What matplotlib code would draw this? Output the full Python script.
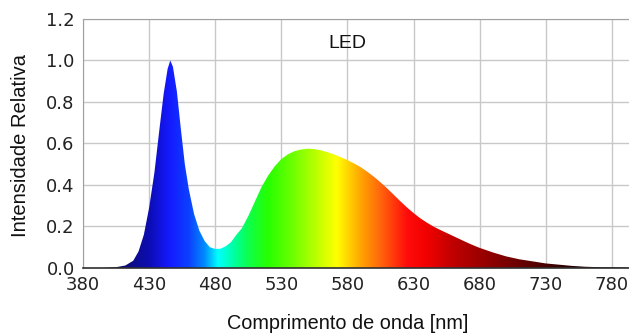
import numpy as np
import matplotlib
matplotlib.use("Agg")
from matplotlib import pyplot as plt
from matplotlib.patches import Polygon

# relative spectral intensity of a white LED
wavelength = [380, 395, 405, 412, 418, 422, 426, 430, 434, 438, 441, 444, 446,
              448, 451, 454, 457, 460, 464, 468, 472, 476, 480, 484, 488, 492,
              496, 500, 505, 510, 515, 520, 525, 530, 535, 540, 545, 550, 555,
              560, 565, 570, 575, 580, 585, 590, 595, 600, 605, 610, 615, 620,
              625, 630, 635, 640, 645, 650, 655, 660, 665, 670, 675, 680, 690,
              700, 710, 720, 730, 740, 750, 760, 770, 780, 790, 800]
intensity = [0.0, 0.0, 0.004, 0.012, 0.035, 0.08, 0.16, 0.29, 0.46, 0.68, 0.84,
             0.96, 1.0, 0.97, 0.85, 0.67, 0.50, 0.38, 0.26, 0.18, 0.13, 0.10,
             0.092, 0.093, 0.105, 0.125, 0.16, 0.19, 0.25, 0.32, 0.39, 0.445,
             0.49, 0.525, 0.548, 0.563, 0.571, 0.575, 0.573, 0.567, 0.558,
             0.547, 0.534, 0.52, 0.504, 0.486, 0.464, 0.44, 0.413, 0.384,
             0.353, 0.322, 0.292, 0.265, 0.24, 0.219, 0.2, 0.184, 0.169, 0.154,
             0.139, 0.124, 0.11, 0.097, 0.075, 0.056, 0.042, 0.032, 0.022,
             0.016, 0.010, 0.006, 0.004, 0.003, 0.002, 0.001]

xticks = [380, 430, 480, 530, 580, 630, 680, 730, 780]
yticks = [0.0, 0.2, 0.4, 0.6, 0.8, 1.0, 1.2]

# wavelength -> colour anchors for the fill gradient
col_nm = [380, 410, 430, 445, 460, 472, 482, 495, 505, 520, 540, 560, 572,
          590, 605, 625, 640, 660, 690, 720, 750, 780, 800]
col_rgb = [(0.0, 0.0, 0.25), (0.05, 0.05, 0.45), (0.05, 0.05, 0.7),
           (0.08, 0.1, 1.0), (0.05, 0.25, 1.0), (0.0, 0.55, 1.0),
           (0.0, 1.0, 1.0), (0.0, 1.0, 0.6), (0.05, 1.0, 0.3),
           (0.15, 1.0, 0.0), (0.45, 1.0, 0.0), (0.8, 1.0, 0.0),
           (1.0, 1.0, 0.0), (1.0, 0.65, 0.0), (1.0, 0.4, 0.05),
           (1.0, 0.05, 0.05), (0.95, 0.0, 0.0), (0.75, 0.0, 0.0),
           (0.55, 0.0, 0.0), (0.35, 0.0, 0.0), (0.15, 0.0, 0.0),
           (0.05, 0.0, 0.0), (0.0, 0.0, 0.0)]

fig = plt.figure(figsize=(6.29, 3.36), dpi=100)
ax = fig.add_axes([0.132, 0.2024, 0.868, 0.7411])

ax.grid(True, color='#c8c8c8', linewidth=1.0)
ax.set_axisbelow(True)

# spectral gradient clipped to the area under the curve
grid_nm = np.linspace(380, 800, 841)
rgb = np.array(col_rgb)
img = np.stack([np.interp(grid_nm, col_nm, rgb[:, k]) for k in range(3)], axis=-1)
img = img[np.newaxis, :, :]
im = ax.imshow(img, extent=(380, 800, 0, 1.2), aspect='auto', origin='lower',
               interpolation='bilinear', zorder=2)
verts = [(wavelength[0], 0)] + list(zip(wavelength, intensity)) + [(wavelength[-1], 0)]
poly = Polygon(verts, closed=True, facecolor='none', edgecolor='none')
ax.add_patch(poly)
im.set_clip_path(poly)
ax.set_xlim(380, 793)
ax.set_ylim(0, 1.2)

ax.set_xticks(xticks)
ax.set_yticks(yticks)
ax.set_yticklabels(['%.1f' % v for v in yticks])
ax.tick_params(length=0, labelsize=13, colors='#222222', pad=6)
for lab in ax.get_xticklabels() + ax.get_yticklabels():
    lab.set_family('DejaVu Sans')

for s in ['top', 'left']:
    ax.spines[s].set_color('#a0a0a0')
ax.spines['right'].set_visible(False)
ax.spines['bottom'].set_color('#303030')
ax.spines['bottom'].set_linewidth(1.2)

ax.text(580, 1.08, 'LED', ha='center', va='center', fontsize=14,
        family='Liberation Sans', color='#111111')
ax.set_xlabel('Comprimento de onda [nm]', fontsize=14.3, family='Liberation Sans',
              color='#111111')
ax.xaxis.set_label_coords((580 - 380) / 413, -0.185)
ax.set_ylabel('Intensidade Relativa', fontsize=14.5, family='Liberation Sans',
              color='#111111')
ax.yaxis.set_label_coords(-0.097, 0.49)

fig.savefig('out.png', dpi=100)
